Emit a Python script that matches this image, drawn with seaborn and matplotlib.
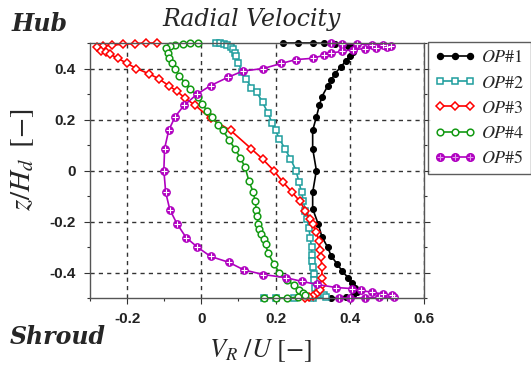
import matplotlib
matplotlib.use("Agg")
import matplotlib.pyplot as plt
import numpy as np
import pandas as pd
import seaborn as sns
from matplotlib.lines import Line2D
from matplotlib.ticker import MultipleLocator

# ---------------- data ----------------
labels = [r"$OP\#1$", r"$OP\#2$", r"$OP\#3$", r"$OP\#4$", r"$OP\#5$"]

z_op1 = [0.5, 0.5, 0.5, 0.499, 0.497, 0.494, 0.49, 0.484, 0.476, 0.466, 0.45, 0.43,
         0.405, 0.38, 0.355, 0.33, 0.29, 0.255, 0.21, 0.157, 0.086, 0.0, -0.086,
         -0.15, -0.21, -0.26, -0.30, -0.335, -0.365, -0.395, -0.42, -0.44, -0.46,
         -0.475, -0.487, -0.495, -0.5, -0.5]
vr_op1 = [0.22, 0.26, 0.30, 0.33, 0.36, 0.38, 0.395, 0.405, 0.41, 0.41, 0.40, 0.39,
          0.375, 0.36, 0.35, 0.34, 0.325, 0.318, 0.31, 0.30, 0.30, 0.31, 0.30,
          0.30, 0.315, 0.325, 0.34, 0.35, 0.365, 0.38, 0.395, 0.405, 0.415,
          0.42, 0.41, 0.39, 0.37, 0.35]

z_op2 = [0.5, 0.5, 0.497, 0.493, 0.485, 0.475, 0.462, 0.45, 0.42, 0.385, 0.36, 0.325,
         0.306, 0.267, 0.224, 0.188, 0.157, 0.125, 0.086, 0.047, 0.0, -0.045, -0.086,
         -0.12, -0.157, -0.19, -0.225, -0.263, -0.30, -0.33, -0.353, -0.38, -0.404,
         -0.43, -0.459, -0.475, -0.487, -0.495, -0.5, -0.5, -0.5, -0.5]
vr_op2 = [0.04, 0.05, 0.06, 0.07, 0.08, 0.085, 0.09, 0.093, 0.10, 0.11, 0.12, 0.135,
          0.15, 0.165, 0.18, 0.19, 0.20, 0.21, 0.225, 0.24, 0.255, 0.263, 0.27,
          0.275, 0.28, 0.285, 0.29, 0.293, 0.297, 0.298, 0.298, 0.30, 0.303,
          0.304, 0.305, 0.315, 0.33, 0.335, 0.30, 0.25, 0.20, 0.17]

z_op3 = [0.5, 0.5, 0.498, 0.495, 0.492, 0.488, 0.484, 0.47, 0.463, 0.455, 0.44, 0.42,
         0.40, 0.38, 0.36, 0.333, 0.31, 0.285, 0.255, 0.204, 0.157, 0.086, 0.045,
         0.0, -0.045, -0.086, -0.12, -0.157, -0.19, -0.208, -0.24, -0.275, -0.31,
         -0.34, -0.38, -0.42, -0.45, -0.47, -0.485, -0.493, -0.498, -0.5]
vr_op3 = [-0.12, -0.15, -0.18, -0.21, -0.24, -0.265, -0.28, -0.27, -0.258, -0.245,
          -0.225, -0.20, -0.175, -0.142, -0.115, -0.088, -0.065, -0.045, -0.016,
          0.025, 0.079, 0.134, 0.165, 0.195, 0.22, 0.245, 0.265, 0.28, 0.292, 0.30,
          0.31, 0.316, 0.32, 0.322, 0.325, 0.325, 0.325, 0.32, 0.31, 0.30, 0.29, 0.28]

z_op4 = [0.5, 0.5, 0.498, 0.494, 0.488, 0.48, 0.46, 0.44, 0.42, 0.40, 0.37, 0.345,
         0.32, 0.29, 0.259, 0.235, 0.208, 0.18, 0.157, 0.12, 0.086, 0.05, 0.012,
         -0.04, -0.086, -0.12, -0.153, -0.18, -0.208, -0.23, -0.25, -0.27, -0.29,
         -0.325, -0.365, -0.40, -0.43, -0.45, -0.47, -0.482, -0.49, -0.497, -0.5,
         -0.5, -0.5]
vr_op4 = [-0.01, -0.03, -0.05, -0.07, -0.085, -0.095, -0.09, -0.088, -0.08, -0.071,
          -0.06, -0.044, -0.03, -0.01, 0.003, 0.015, 0.03, 0.045, 0.058, 0.075,
          0.09, 0.105, 0.118, 0.128, 0.14, 0.145, 0.148, 0.15, 0.153, 0.155, 0.16,
          0.168, 0.173, 0.18, 0.195, 0.21, 0.23, 0.25, 0.263, 0.275, 0.28, 0.26,
          0.23, 0.20, 0.17]

z_op5 = [0.5, 0.498, 0.496, 0.494, 0.492, 0.49, 0.485, 0.482, 0.478, 0.474, 0.468,
         0.46, 0.452, 0.44, 0.435, 0.42, 0.40, 0.39, 0.365, 0.333, 0.30, 0.255, 0.21,
         0.157, 0.086, 0.0, -0.086, -0.153, -0.208, -0.263, -0.30, -0.337, -0.36,
         -0.39, -0.408, -0.42, -0.435, -0.447, -0.459, -0.463, -0.47, -0.478, -0.484,
         -0.49, -0.495, -0.498, -0.5, -0.5, -0.5]
vr_op5 = [0.35, 0.38, 0.42, 0.46, 0.49, 0.51, 0.50, 0.47, 0.44, 0.41, 0.38, 0.35,
          0.33, 0.30, 0.255, 0.216, 0.167, 0.112, 0.071, 0.025, -0.011, -0.047,
          -0.071, -0.088, -0.099, -0.101, -0.096, -0.085, -0.066, -0.041, -0.011,
          0.025, 0.074, 0.115, 0.167, 0.227, 0.271, 0.312, 0.364, 0.405, 0.43, 0.46,
          0.49, 0.515, 0.52, 0.48, 0.44, 0.40, 0.37]

xtick_vals = [-0.2, 0.0, 0.2, 0.4, 0.6]
xtick_labels = ["-0.2", "0", "0.2", "0.4", "0.6"]
ytick_vals = [-0.4, -0.2, 0.0, 0.2, 0.4]
ytick_labels = ["-0.4", "-0.2", "0", "0.2", "0.4"]

# ---------------- styles ----------------
colors = ["black", "#1f9e9e", "#ff0000", "#139a13", "#b000c0"]

sns.set_style("white")
plt.rcParams["mathtext.fontset"] = "stix"
plt.rcParams["axes.unicode_minus"] = False

W, H = 531, 365
fig = plt.figure(figsize=(W / 100, H / 100), dpi=100)
ax = fig.add_axes([90 / W, 1 - 298 / H, 334 / W, 255 / H])

def df(x, z):
    return pd.DataFrame({"vr": x, "z": z})

common = dict(x="vr", y="z", sort=False, estimator=None, ax=ax, legend=False)

ms_fill, ms_open, ms_d, ms_5 = 4.3, 4.8, 4.0, 5.5

sns.lineplot(data=df(vr_op1, z_op1), color=colors[0], marker="o", markersize=ms_fill,
             markerfacecolor=colors[0], markeredgecolor=colors[0], lw=1.2, **common)
sns.lineplot(data=df(vr_op2, z_op2), color=colors[1], marker="s", markersize=ms_open,
             markerfacecolor="white", markeredgecolor=colors[1], markeredgewidth=1.1,
             lw=1.2, **common)
sns.lineplot(data=df(vr_op3, z_op3), color=colors[2], marker="D", markersize=ms_d,
             markerfacecolor="white", markeredgecolor=colors[2], markeredgewidth=1.1,
             lw=1.2, **common)
sns.lineplot(data=df(vr_op4, z_op4), color=colors[3], marker="o", markersize=ms_open,
             markerfacecolor="white", markeredgecolor=colors[3], markeredgewidth=1.1,
             lw=1.2, **common)
sns.lineplot(data=df(vr_op5, z_op5), color=colors[4], marker="o", markersize=ms_5,
             markerfacecolor=colors[4], markeredgecolor=colors[4], lw=1.2, **common)
sns.lineplot(data=df(vr_op5, z_op5), color="#e59aef", marker="+", markersize=5,
             markeredgewidth=0.8, linestyle="", **common)

for ln in ax.lines:
    ln.set_clip_on(False)

ax.set_xlim(-0.3, 0.6)
ax.set_ylim(-0.5, 0.5)
ax.set_xticks(xtick_vals)
ax.set_xticklabels(xtick_labels)
ax.set_yticks(ytick_vals)
ax.set_yticklabels(ytick_labels)
ax.xaxis.set_minor_locator(MultipleLocator(0.1))
ax.yaxis.set_minor_locator(MultipleLocator(0.1))
ax.tick_params(which="both", direction="out", color="#333333", width=0.8,
               bottom=True, left=True, right=True, top=False)
ax.tick_params(which="major", length=4)
ax.tick_params(which="minor", length=2.5)
ax.tick_params(labelsize=11, pad=6)
for lab in ax.get_xticklabels() + ax.get_yticklabels():
    lab.set_fontfamily("Liberation Sans")
    lab.set_fontweight("bold")
    lab.set_color("#222222")
ax.grid(True, which="major", color="#333333", linestyle=(0, (3, 3)), lw=1.0)
ax.set_axisbelow(True)
for sp in ax.spines.values():
    sp.set_color("#555555")
    sp.set_linewidth(1.0)
ax.set_xlabel("")
ax.set_ylabel("")

# labels
fig.text(261 / W, 1 - 357 / H, r"$V_R\ /U\ [-]$", ha="center", va="baseline", fontsize=19)
fig.text(22 / W, 1 - 160 / H, r"$z/H_d\;\;[-]$", ha="center", va="center",
         rotation=90, fontsize=21)
fig.text(252 / W, 1 - 26 / H, "Radial Velocity", ha="center", va="baseline",
         fontsize=17, family="DejaVu Serif", style="italic")
fig.text(12 / W, 1 - 31 / H, "Hub", ha="left", va="baseline", fontsize=17,
         family="DejaVu Serif", style="italic", weight="bold")
fig.text(10 / W, 1 - 344 / H, "Shroud", ha="left", va="baseline", fontsize=17,
         family="DejaVu Serif", style="italic", weight="bold")

# legend
handles = [
    Line2D([], [], color=colors[0], marker="o", markersize=ms_fill, lw=1.2),
    Line2D([], [], color=colors[1], marker="s", markersize=ms_open, mfc="white", mew=1.1, lw=1.2),
    Line2D([], [], color=colors[2], marker="D", markersize=ms_d, mfc="white", mew=1.1, lw=1.2),
    Line2D([], [], color=colors[3], marker="o", markersize=ms_open, mfc="white", mew=1.1, lw=1.2),
    (Line2D([], [], color=colors[4], marker="o", markersize=ms_5, lw=1.2),
     Line2D([], [], color="#e59aef", marker="+", markersize=5, mew=0.8, linestyle="")),
]
leg = fig.legend(handles, labels, loc="upper left",
                 bbox_to_anchor=(428 / W, 1 - 42 / H), borderaxespad=0,
                 frameon=True, fancybox=False, edgecolor="#333333", numpoints=3,
                 handlelength=2.3, handletextpad=0.3, labelspacing=0.4,
                 borderpad=0.35, prop={"size": 13})
leg.get_frame().set_linewidth(1.0)

fig.savefig("out.png", dpi=100)
